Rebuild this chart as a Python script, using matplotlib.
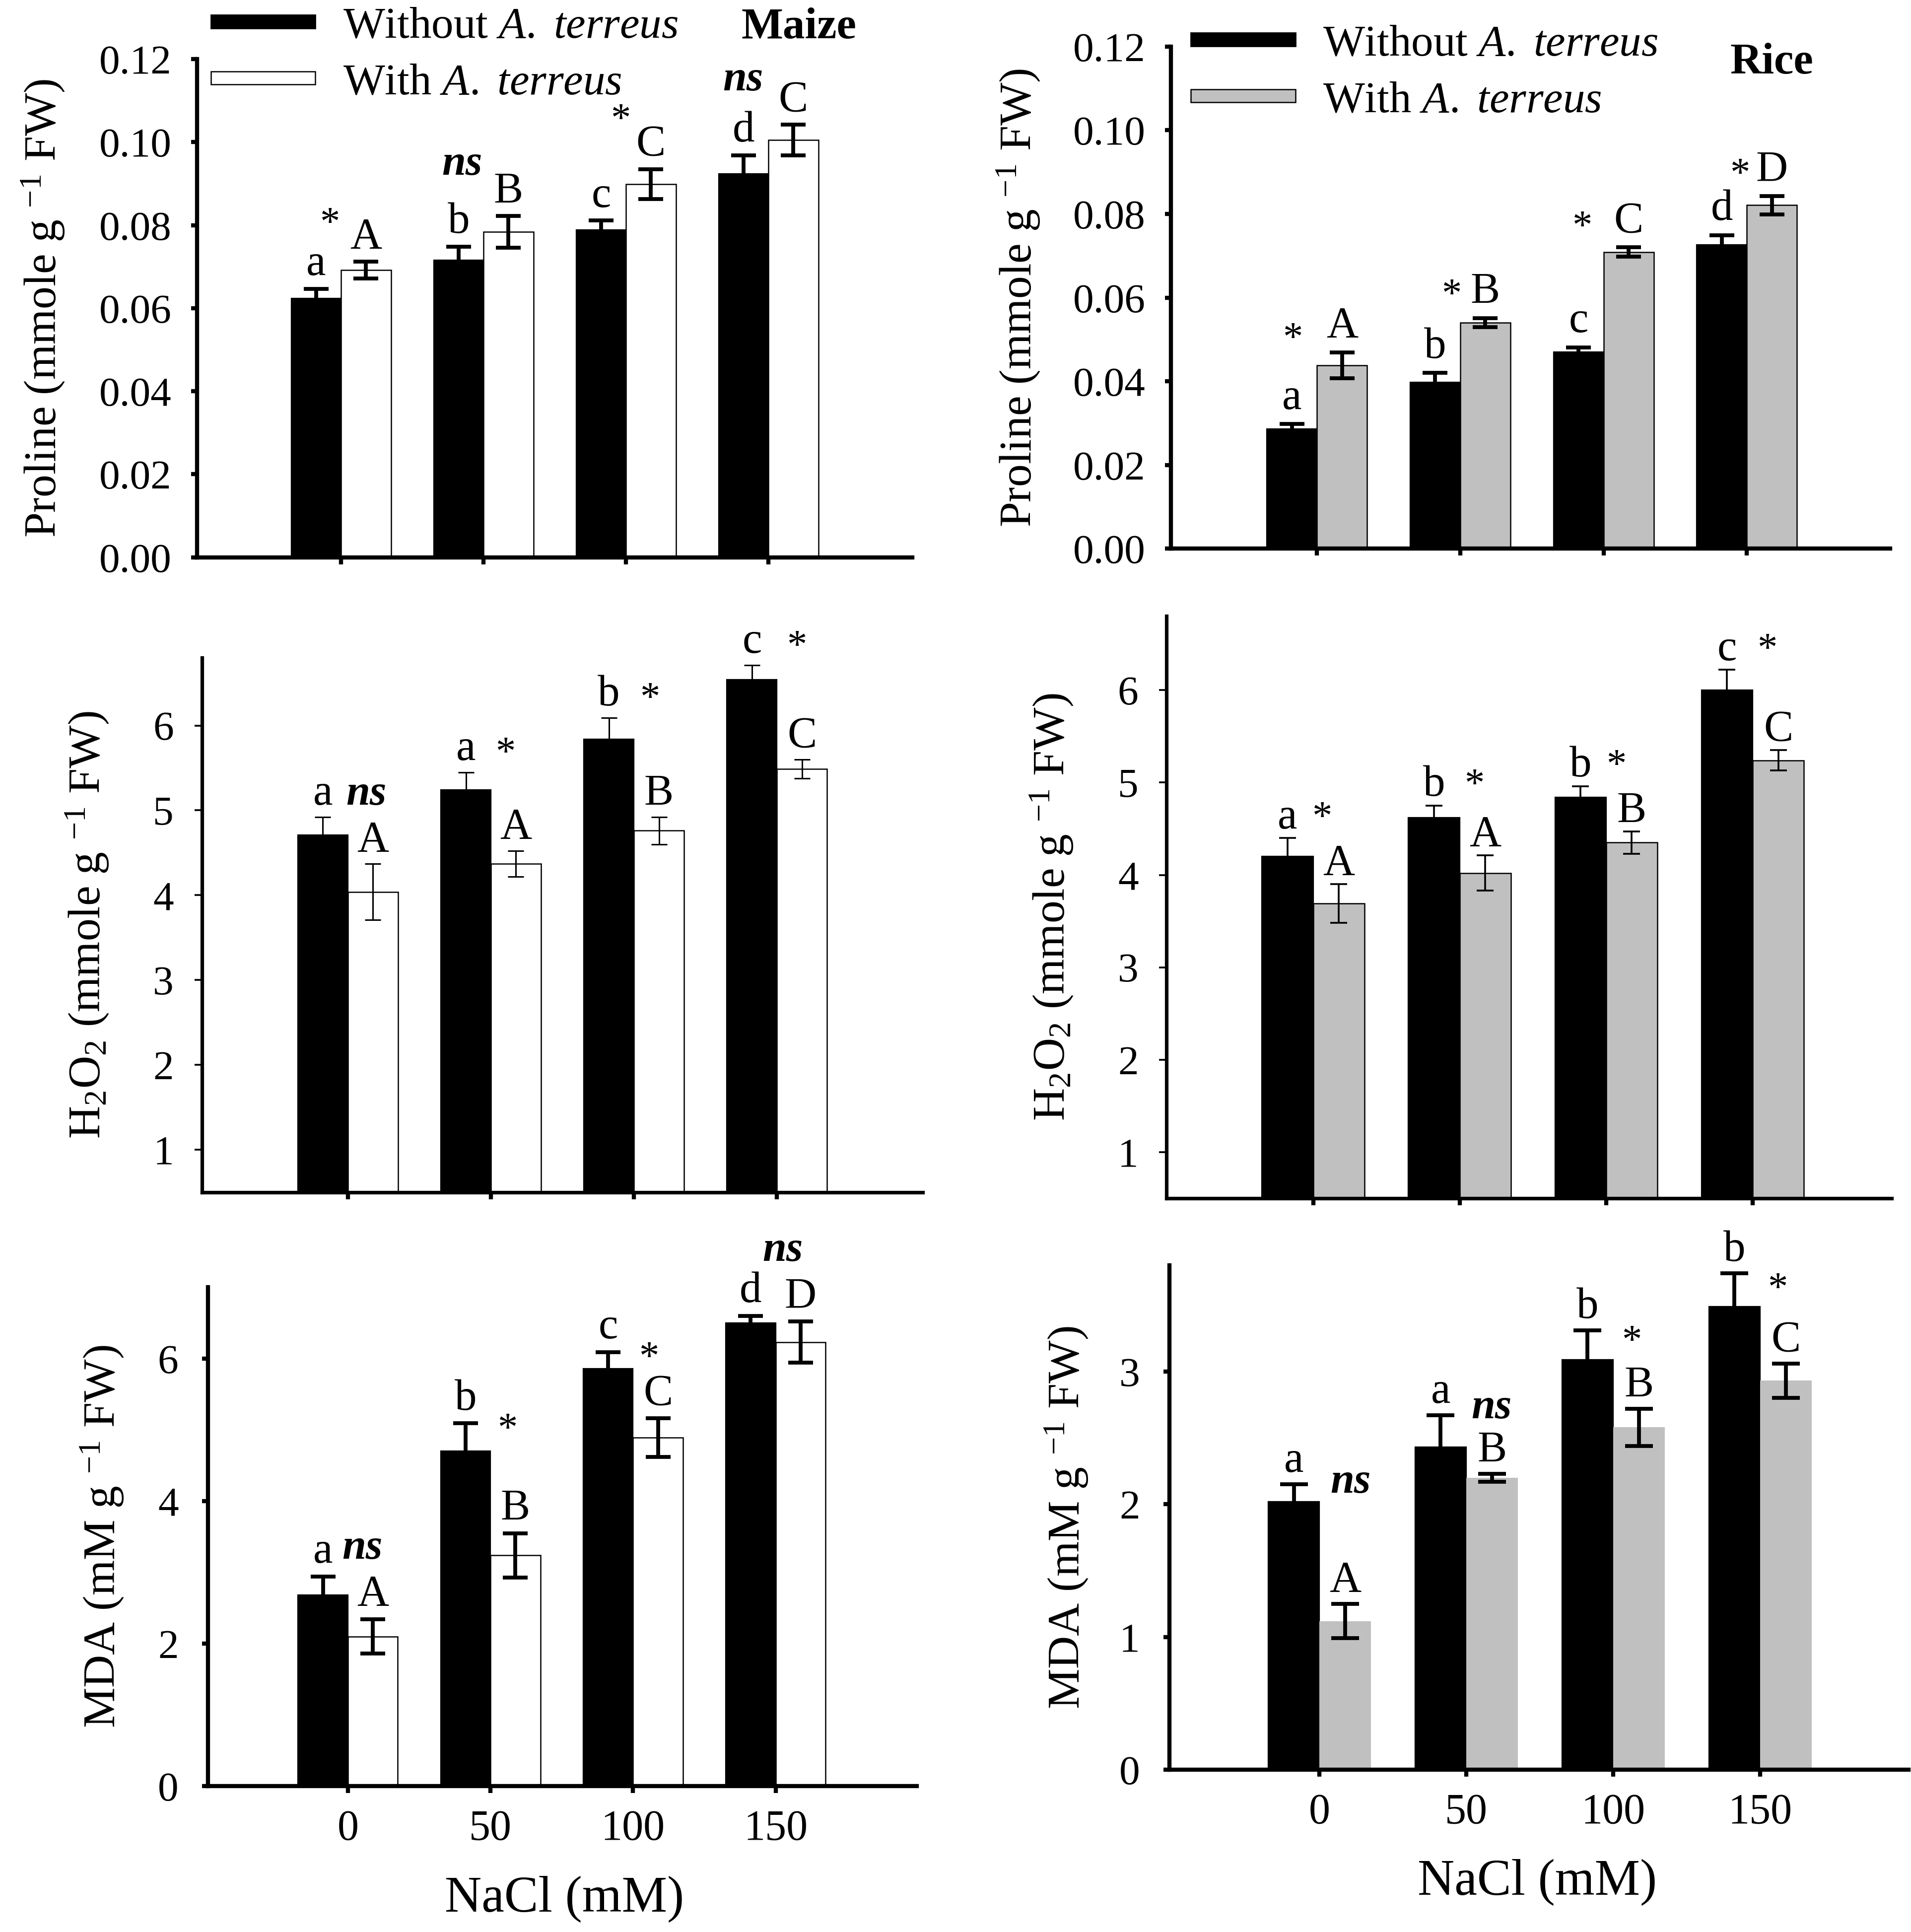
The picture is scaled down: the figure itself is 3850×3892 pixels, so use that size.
import numpy as np
import matplotlib
matplotlib.use('Agg')
import matplotlib.pyplot as plt
from matplotlib.patches import Patch

plt.rcParams['font.family'] = ['Liberation Serif', 'DejaVu Serif']
plt.rcParams['mathtext.fontset'] = 'custom'
plt.rcParams['mathtext.rm'] = 'Liberation Serif'
plt.rcParams['mathtext.it'] = 'Liberation Serif:italic'
plt.rcParams['mathtext.bf'] = 'Liberation Serif:bold'

nacl = ['0', '50', '100', '150']

# Maize proline
maize_pro_without = [0.0624, 0.0716, 0.0789, 0.0924]
maize_pro_without_err = [0.0023, 0.0032, 0.0022, 0.0044]
maize_pro_with = [0.0692, 0.0784, 0.0899, 0.1005]
maize_pro_with_err = [0.0020, 0.0038, 0.0036, 0.0037]
maize_pro_let_without = ['a', 'b', 'c', 'd']
maize_pro_let_with = ['A', 'B', 'C', 'C']
maize_pro_sig = ['*', 'ns', '*', 'ns']

# Rice proline
rice_pro_without = [0.0286, 0.0398, 0.0470, 0.0727]
rice_pro_without_err = [0.0012, 0.0022, 0.0011, 0.0022]
rice_pro_with = [0.0438, 0.0540, 0.0709, 0.0821]
rice_pro_with_err = [0.0031, 0.0011, 0.0011, 0.0022]
rice_pro_let_without = ['a', 'b', 'c', 'd']
rice_pro_let_with = ['A', 'B', 'C', 'D']
rice_pro_sig = ['*', '*', '*', '*']

# Maize H2O2
maize_h2o2_without = [4.71, 5.24, 5.84, 6.54]
maize_h2o2_without_err = [0.21, 0.21, 0.25, 0.17]
maize_h2o2_with = [4.04, 4.37, 4.76, 5.49]
maize_h2o2_with_err = [0.33, 0.15, 0.16, 0.11]
maize_h2o2_let_without = ['a', 'a', 'b', 'c']
maize_h2o2_let_with = ['A', 'A', 'B', 'C']
maize_h2o2_sig = ['ns', '*', '*', '*']

# Rice H2O2
rice_h2o2_without = [4.20, 4.62, 4.84, 6.00]
rice_h2o2_without_err = [0.20, 0.13, 0.12, 0.22]
rice_h2o2_with = [3.69, 4.02, 4.35, 5.24]
rice_h2o2_with_err = [0.21, 0.19, 0.12, 0.11]
rice_h2o2_let_without = ['a', 'b', 'b', 'c']
rice_h2o2_let_with = ['A', 'A', 'B', 'C']
rice_h2o2_sig = ['*', '*', '*', '*']

# Maize MDA
maize_mda_without = [2.68, 4.70, 5.86, 6.50]
maize_mda_without_err = [0.26, 0.39, 0.23, 0.10]
maize_mda_with = [2.10, 3.24, 4.89, 6.23]
maize_mda_with_err = [0.24, 0.31, 0.27, 0.29]
maize_mda_let_without = ['a', 'b', 'c', 'd']
maize_mda_let_with = ['A', 'B', 'C', 'D']
maize_mda_sig = ['ns', '*', '*', 'ns']

# Rice MDA
rice_mda_without = [2.02, 2.43, 3.09, 3.49]
rice_mda_without_err = [0.13, 0.24, 0.22, 0.25]
rice_mda_with = [1.12, 2.20, 2.58, 2.93]
rice_mda_with_err = [0.13, 0.03, 0.14, 0.13]
rice_mda_let_without = ['a', 'a', 'b', 'b']
rice_mda_let_with = ['A', 'B', 'B', 'C']
rice_mda_sig = ['ns', 'ns', '*', '*']

# layout is measured on a 1550 x 1567 copy of the figure
PW, PH = 1550.0, 1567.0
GRAY = '#c0c0c0'
BAR_W = 0.35

fig = plt.figure(figsize=(19.25, 19.46), dpi=200)


def add_box(x0, y0, x1, y1):
    return fig.add_axes([x0 / PW, 1 - y1 / PH, (x1 - x0) / PW, (y1 - y0) / PH])


def draw_panel(box, data, L):
    without, without_err, with_, with_err, let_wo, let_w, sig = data
    ax = add_box(*box)
    x = np.arange(len(nacl))
    ax.bar(x - BAR_W / 2, without, BAR_W, color='black', edgecolor='black',
           linewidth=0.8, zorder=2)
    ax.bar(x + BAR_W / 2, with_, BAR_W, color=L['fill'],
           edgecolor=L['edge'], linewidth=0.9, zorder=2)
    ekw = dict(fmt='none', ecolor='black', elinewidth=L['elw'],
               capsize=L['cap'], capthick=L['elw'], zorder=3)
    ax.errorbar(x - BAR_W / 2, without, yerr=without_err, **ekw)
    ax.errorbar(x + BAR_W / 2, with_, yerr=with_err, **ekw)

    top_wo = np.array(without) + np.array(without_err)
    top_w = np.array(with_) + np.array(with_err)
    for i in range(len(nacl)):
        ax.annotate(let_wo[i], (x[i] - BAR_W / 2, top_wo[i]), xytext=(0, L['loff']),
                    textcoords='offset points', ha='center', va='baseline', fontsize=32)
        ax.annotate(let_w[i], (x[i] + BAR_W / 2, top_w[i]), xytext=(0, L['loff']),
                    textcoords='offset points', ha='center', va='baseline', fontsize=32)
        ref = L['sig_ref'][i]
        if ref == 'black':
            y = top_wo[i]
        elif ref == 'with':
            y = top_w[i]
        else:
            y = max(top_wo[i], top_w[i])
        if sig[i] == 'ns':
            style = dict(fontstyle='italic', fontweight='bold', fontsize=31)
        else:
            style = dict(fontsize=29)
        ax.annotate(sig[i], (x[i] + L['sig_dx'][i], y), xytext=(0, L['sig_dy'][i]),
                    textcoords='offset points', ha='center', va='baseline', **style)

    ax.set_xlim(*L['xlim'])
    ax.set_ylim(*L['ylim'])
    ax.set_yticks(L['yticks'])
    ax.set_yticklabels([L['yfmt'] % t for t in L['yticks']])
    ax.set_xticks(x)
    for s in ['top', 'right']:
        ax.spines[s].set_visible(False)
    for s in ['left', 'bottom']:
        ax.spines[s].set_linewidth(L['spw'])
    ax.tick_params(axis='y', direction='out', length=L['tlen'], width=L['tw'],
                   pad=L['ypad'], labelsize=30)
    ax.tick_params(axis='x', direction='out', length=5, width=3, pad=12, labelsize=31)
    if L['xlabels']:
        ax.set_xticklabels(nacl)
        ax.set_xlabel('NaCl (mM)', fontsize=37, va='baseline')
        ax.xaxis.set_label_coords(*L['xlab_pos'])
    else:
        ax.set_xticklabels([])
    ax.set_ylabel(L['ylabel'], fontsize=33, va='center')
    ax.yaxis.set_label_coords((L['ylab_x'] - box[0]) / (box[2] - box[0]), 0.5)
    return ax


proline_label = r'Proline (mmole g $^{-1}$ FW)'
h2o2_label = r'H$_2$O$_2$ (mmole g $^{-1}$ FW)'
mda_label = r'MDA (mM g $^{-1}$ FW)'

thick = dict(elw=2.8, cap=9, spw=3.0, tlen=4.5, tw=3.0)
thin = dict(spw=2.6, tlen=5.5, tw=1.3)

panels = [
    ((160, 48, 740, 452),
     (maize_pro_without, maize_pro_without_err, maize_pro_with, maize_pro_with_err,
      maize_pro_let_without, maize_pro_let_with, maize_pro_sig),
     dict(thick, fill='white', edge='black', xlim=(-1.01, 4.01), ylim=(0, 0.12),
          yticks=[0, 0.02, 0.04, 0.06, 0.08, 0.10, 0.12], yfmt='%.2f', ypad=14,
          loff=10, sig_ref=['max'] * 4, sig_dx=[-0.08, -0.15, -0.04, -0.18],
          sig_dy=[20, 30, 28, 25], xlabels=False, ylabel=proline_label, ylab_x=35)),
    ((949.7, 37.8, 1533, 445),
     (rice_pro_without, rice_pro_without_err, rice_pro_with, rice_pro_with_err,
      rice_pro_let_without, rice_pro_let_with, rice_pro_sig),
     dict(thick, fill=GRAY, edge='black', xlim=(-1.02, 4.0), ylim=(0, 0.12),
          yticks=[0, 0.02, 0.04, 0.06, 0.08, 0.10, 0.12], yfmt='%.2f', ypad=14,
          loff=11, sig_ref=['with'] * 4, sig_dx=[-0.17, -0.06, -0.15, -0.05],
          sig_dy=[2, 9, 7, 8], xlabels=False, ylabel=proline_label, ylab_x=826)),
    ((163.8, 533.4, 748.5, 966.9),
     (maize_h2o2_without, maize_h2o2_without_err, maize_h2o2_with, maize_h2o2_with_err,
      maize_h2o2_let_without, maize_h2o2_let_with, maize_h2o2_sig),
     dict(thin, elw=1.1, cap=5.6, fill='white', edge='black', xlim=(-1.02, 4.02),
          ylim=(0.5, 6.8), yticks=[1, 2, 3, 4, 5, 6], yfmt='%d', ypad=15,
          loff=9, sig_ref=['black'] * 4, sig_dx=[0.13, 0.1, 0.11, 0.14],
          sig_dy=[9, 6, 6, 6], xlabels=False, ylabel=h2o2_label, ylab_x=71)),
    ((946.3, 499.8, 1534.4, 971.9),
     (rice_h2o2_without, rice_h2o2_without_err, rice_h2o2_with, rice_h2o2_with_err,
      rice_h2o2_let_without, rice_h2o2_let_with, rice_h2o2_sig),
     dict(thin, elw=1.3, cap=6.2, fill=GRAY, edge='black', xlim=(-1.0, 3.95),
          ylim=(0.5, 6.8), yticks=[1, 2, 3, 4, 5, 6], yfmt='%d', ypad=15,
          loff=7, sig_ref=['black'] * 4, sig_dx=[0.06, 0.1, 0.07, 0.1],
          sig_dy=[7, 7, 7, 7], xlabels=False, ylabel=h2o2_label, ylab_x=853)),
    ((168.8, 1044.1, 743.6, 1448.7),
     (maize_mda_without, maize_mda_without_err, maize_mda_with, maize_mda_with_err,
      maize_mda_let_without, maize_mda_let_with, maize_mda_sig),
     dict(thick, fill='white', edge='black', xlim=(-0.98, 3.99), ylim=(0, 7),
          yticks=[0, 2, 4, 6], yfmt='%d', ypad=17,
          loff=10, sig_ref=['black', 'black', 'black', 'max'],
          sig_dx=[0.1, 0.12, 0.11, 0.05], sig_dy=[13, -12, -12, 40],
          xlabels=True, xlab_pos=(0.5026, -0.251), ylabel=mda_label, ylab_x=83)),
    ((948.7, 1026.2, 1548, 1435.4),
     (rice_mda_without, rice_mda_without_err, rice_mda_with, rice_mda_with_err,
      rice_mda_let_without, rice_mda_let_with, rice_mda_sig),
     dict(thick, cap=10, fill=GRAY, edge='none', xlim=(-1.02, 4.01), ylim=(0, 3.8),
          yticks=[0, 1, 2, 3], yfmt='%d', ypad=17,
          loff=9, sig_ref=['black'] * 4, sig_dx=[0.21, 0.17, 0.125, 0.12],
          sig_dy=[-6, -2, -16, -19], xlabels=True, xlab_pos=(0.4977, -0.248),
          ylabel=mda_label, ylab_x=865)),
]

axes = [draw_panel(box, data, L) for box, data, L in panels]

leg_kw = dict(loc='upper left', bbox_transform=fig.transFigure, frameon=False,
              fontsize=32, handlelength=2.37, handleheight=0.085, handletextpad=0.62,
              labelspacing=0.37, borderpad=0, borderaxespad=0)
leg_labels = [r'Without $\mathit{A.\ terreus}$', r'With $\mathit{A.\ terreus}$']
axes[0].legend([Patch(facecolor='black', edgecolor='black'),
                Patch(facecolor='white', edgecolor='black', linewidth=0.9)],
               leg_labels, bbox_to_anchor=(171 / PW, 1 - 5.5 / PH), **leg_kw)
axes[1].legend([Patch(facecolor='black', edgecolor='black'),
                Patch(facecolor=GRAY, edgecolor='black', linewidth=0.9)],
               leg_labels, bbox_to_anchor=(966 / PW, 1 - 20 / PH), **leg_kw)

fig.text(648 / PW, 1 - 31 / PH, 'Maize', fontsize=32, fontweight='bold',
         ha='center', va='baseline')
fig.text(1437 / PW, 1 - 59.4 / PH, 'Rice', fontsize=32, fontweight='bold',
         ha='center', va='baseline')

fig.savefig('out.png', dpi=200, facecolor='white')
